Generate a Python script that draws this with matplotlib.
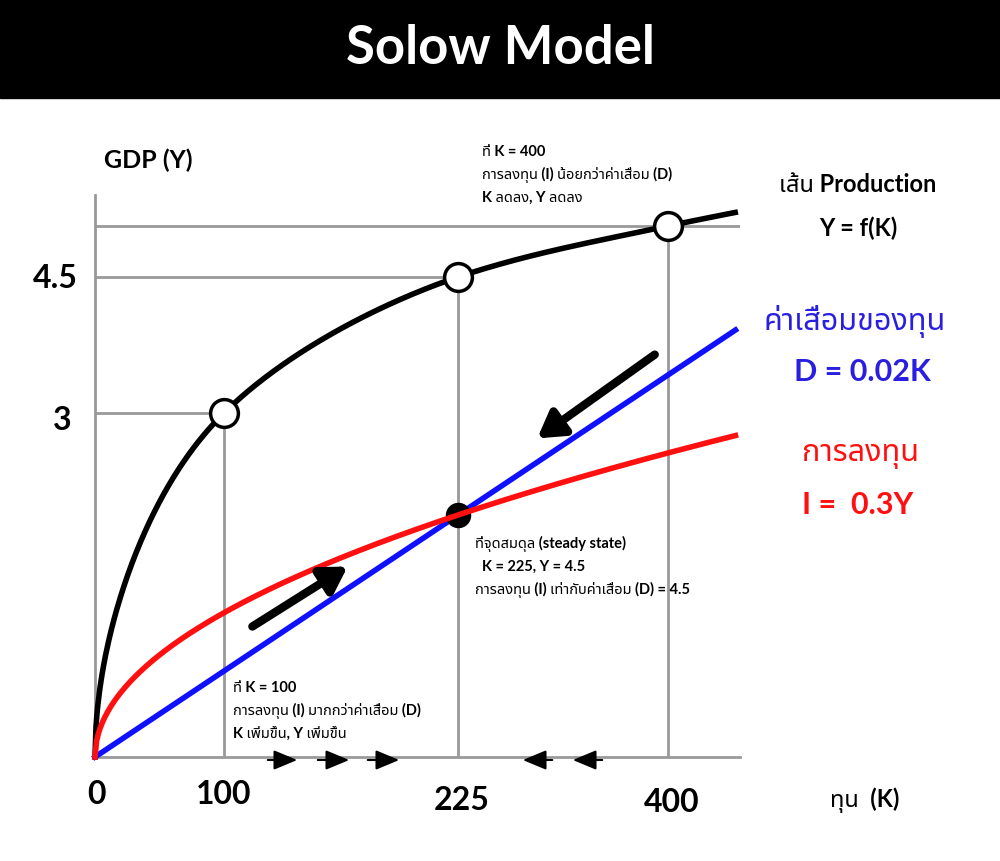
import numpy as np
import matplotlib
matplotlib.use("Agg")
import matplotlib.pyplot as plt
from matplotlib.patches import Rectangle, FancyArrowPatch

plt.rcParams['font.family'] = ['Lato', 'Noto Sans Thai', 'DejaVu Sans']

# data
k_marks = [100, 225, 400]
y_marks = [3, 4.5, 6]
x_ticklabels = ["0", "100", "225", "400"]
y_ticklabels = ["3", "4.5"]
savings = 0.3
depr = 0.02
k_max = 456

K = np.linspace(0, k_max, 600)
Y = 0.3 * np.sqrt(K)
K2 = np.linspace(0, 397, 400)
I = savings * 0.3 * np.sqrt(K2)
D = depr * K2

fig = plt.figure(figsize=(10, 8.61), dpi=100)
W, H = 1000, 861
def fx(x): return x / W
def fy(y): return 1 - y / H

fig.patches.append(Rectangle((0, fy(98)), 1, 98 / H, transform=fig.transFigure, color='black', zorder=0))
fig.text(0.5, fy(48), "Solow Model", color='white', fontsize=38, fontweight='bold', ha='center', va='center')

def pchip_fn(xk, yk):
    xk = np.asarray(xk, float); yk = np.asarray(yk, float)
    h = np.diff(xk); d = np.diff(yk) / h
    m = np.zeros_like(xk)
    m[0], m[-1] = d[0], d[-1]
    for i in range(1, len(xk) - 1):
        if d[i-1] * d[i] > 0:
            w1 = 2 * h[i] + h[i-1]; w2 = h[i] + 2 * h[i-1]
            m[i] = (w1 + w2) / (w1 / d[i-1] + w2 / d[i])
    def f(v):
        v = np.asarray(v, float)
        i = np.clip(np.searchsorted(xk, v) - 1, 0, len(xk) - 2)
        t = (v - xk[i]) / h[i]
        h00 = 2*t**3 - 3*t**2 + 1; h10 = t**3 - 2*t**2 + t
        h01 = -2*t**3 + 3*t**2; h11 = t**3 - t**2
        return h00*yk[i] + h10*h[i]*m[i] + h01*yk[i+1] + h11*h[i]*m[i+1]
    grid = np.linspace(xk[0], xk[-1], 4000)
    fg = f(grid)
    return f, (lambda v: np.interp(v, fg, grid))

fxk, ixk = pchip_fn([0, 100, 225, 400, 470], [0, 129, 363, 573, 657])
fyk, iyk = pchip_fn([0, 3, 4.5, 6, 8], [0, 344, 480, 531, 597])

rect = [fx(95), fy(757), 645 / W, 562 / H]
ax = fig.add_axes(rect)
ax.set_xscale('function', functions=(fxk, ixk))
ax.set_yscale('function', functions=(fyk, iyk))
ax.set_xlim(0, float(ixk(645)))
ax.set_ylim(0, float(iyk(562)))
for s in ['top', 'right']:
    ax.spines[s].set_visible(False)
for s in ['left', 'bottom']:
    ax.spines[s].set_color('#999999')
    ax.spines[s].set_linewidth(2)
ax.set_xticks([]); ax.set_yticks([])
ax.set_xticks([], minor=True); ax.set_yticks([], minor=True)
ax.patch.set_alpha(0)

for k, y in zip(k_marks, y_marks):
    ax.plot([k, k], [0, y], color='#999999', lw=2, zorder=1)
    xend = float(ixk(645)) if y == 6 else k
    ax.plot([0, xend], [y, y], color='#999999', lw=2, zorder=1)

ax.plot(K, Y, color='black', lw=4, zorder=3, clip_on=False)
ax.scatter(k_marks, y_marks, s=400, facecolor='white', edgecolor='black', linewidth=2.5, zorder=5, clip_on=False)

# lower panel (linear K axis)
Dtop = 4.5 * 562 / 242
axd = fig.add_axes(rect)
axd.set_xlim(0, 225 * 645 / 363)
axd.set_ylim(0, Dtop)
axd.axis('off')
axd.plot(K2, D, color='#1010ff', lw=4, zorder=3, clip_on=False)
axi = fig.add_axes(rect)
axi.set_xlim(0, 225 * 645 / 363)
axi.set_ylim(0, Dtop * savings)
axi.axis('off')
axi.plot(K2, I, color='#ff1010', lw=4, zorder=3, clip_on=False)
axd.scatter([225], [depr * 225], s=300, color='black', zorder=6, clip_on=False)

for lab, x, y in zip(x_ticklabels, [97, 224, 462, 672], [795, 795, 800, 803]):
    fig.text(fx(x), fy(y), lab, fontsize=23, fontweight='bold', ha='center', va='center')
fig.text(fx(865), fy(800), "ทุน  (K)", fontsize=17, fontweight='bold', ha='center', va='center')
fig.text(fx(62), fy(420), y_ticklabels[0], fontsize=23, fontweight='bold', ha='center', va='center')
fig.text(fx(55), fy(278), y_ticklabels[1], fontsize=23, fontweight='bold', ha='center', va='center')
fig.text(fx(148), fy(160), "GDP (Y)", fontsize=18, fontweight='bold', ha='center', va='center')

fig.text(fx(858), fy(185), "เส้น Production", fontsize=17, fontweight='bold', ha='center', va='center')
fig.text(fx(858), fy(228), "Y = f(K)", fontsize=17, fontweight='bold', ha='center', va='center')
fig.text(fx(855), fy(322), "ค่าเสื่อมของทุน", fontsize=22, fontweight='bold', color='#2a1fe0', ha='center', va='center')
fig.text(fx(862), fy(372), "D = 0.02K", fontsize=22, fontweight='bold', color='#2a1fe0', ha='center', va='center')
fig.text(fx(860), fy(455), "การลงทุน", fontsize=22, fontweight='bold', color='#ff1010', ha='center', va='center')
fig.text(fx(858), fy(505), "I =  0.3Y", fontsize=22, fontweight='bold', color='#ff1010', ha='center', va='center')

fig.text(fx(482), fy(175), "ที่ K = 400\nการลงทุน (I) น้อยกว่าค่าเสื่อม (D)\nK ลดลง, Y ลดลง",
         fontsize=10.5, fontweight='bold', ha='left', va='center', linespacing=1.7)
fig.text(fx(475), fy(567), "ที่จุดสมดุล (steady state)\n  K = 225, Y = 4.5\nการลงทุน (I) เท่ากับค่าเสื่อม (D) = 4.5",
         fontsize=10.5, fontweight='bold', ha='left', va='center', linespacing=1.7)
fig.text(fx(233), fy(711), "ที่ K = 100\nการลงทุน (I) มากกว่าค่าเสื่อม (D)\nK เพิ่มขึ้น, Y เพิ่มขึ้น",
         fontsize=10.5, fontweight='bold', ha='left', va='center', linespacing=1.7)

ap = dict(arrowstyle='-|>,head_length=1.0,head_width=0.6', lw=6, color='black', capstyle='round')
fig.add_artist(FancyArrowPatch((fx(250), fy(628)), (fx(350), fy(565)),
               transform=fig.transFigure, mutation_scale=15, **ap))
fig.add_artist(FancyArrowPatch((fx(657), fy(353)), (fx(535), fy(440)),
               transform=fig.transFigure, mutation_scale=15, **ap))
small = dict(arrowstyle='-|>,head_length=1.2,head_width=0.5', lw=1.5, color='black')
for x0, x1 in [(265, 300), (315, 352), (365, 402), (555, 520), (605, 570)]:
    fig.add_artist(FancyArrowPatch((fx(x0), fy(760)), (fx(x1), fy(760)),
                   transform=fig.transFigure, mutation_scale=12, **small))

fig.savefig("out.png", dpi=100)
